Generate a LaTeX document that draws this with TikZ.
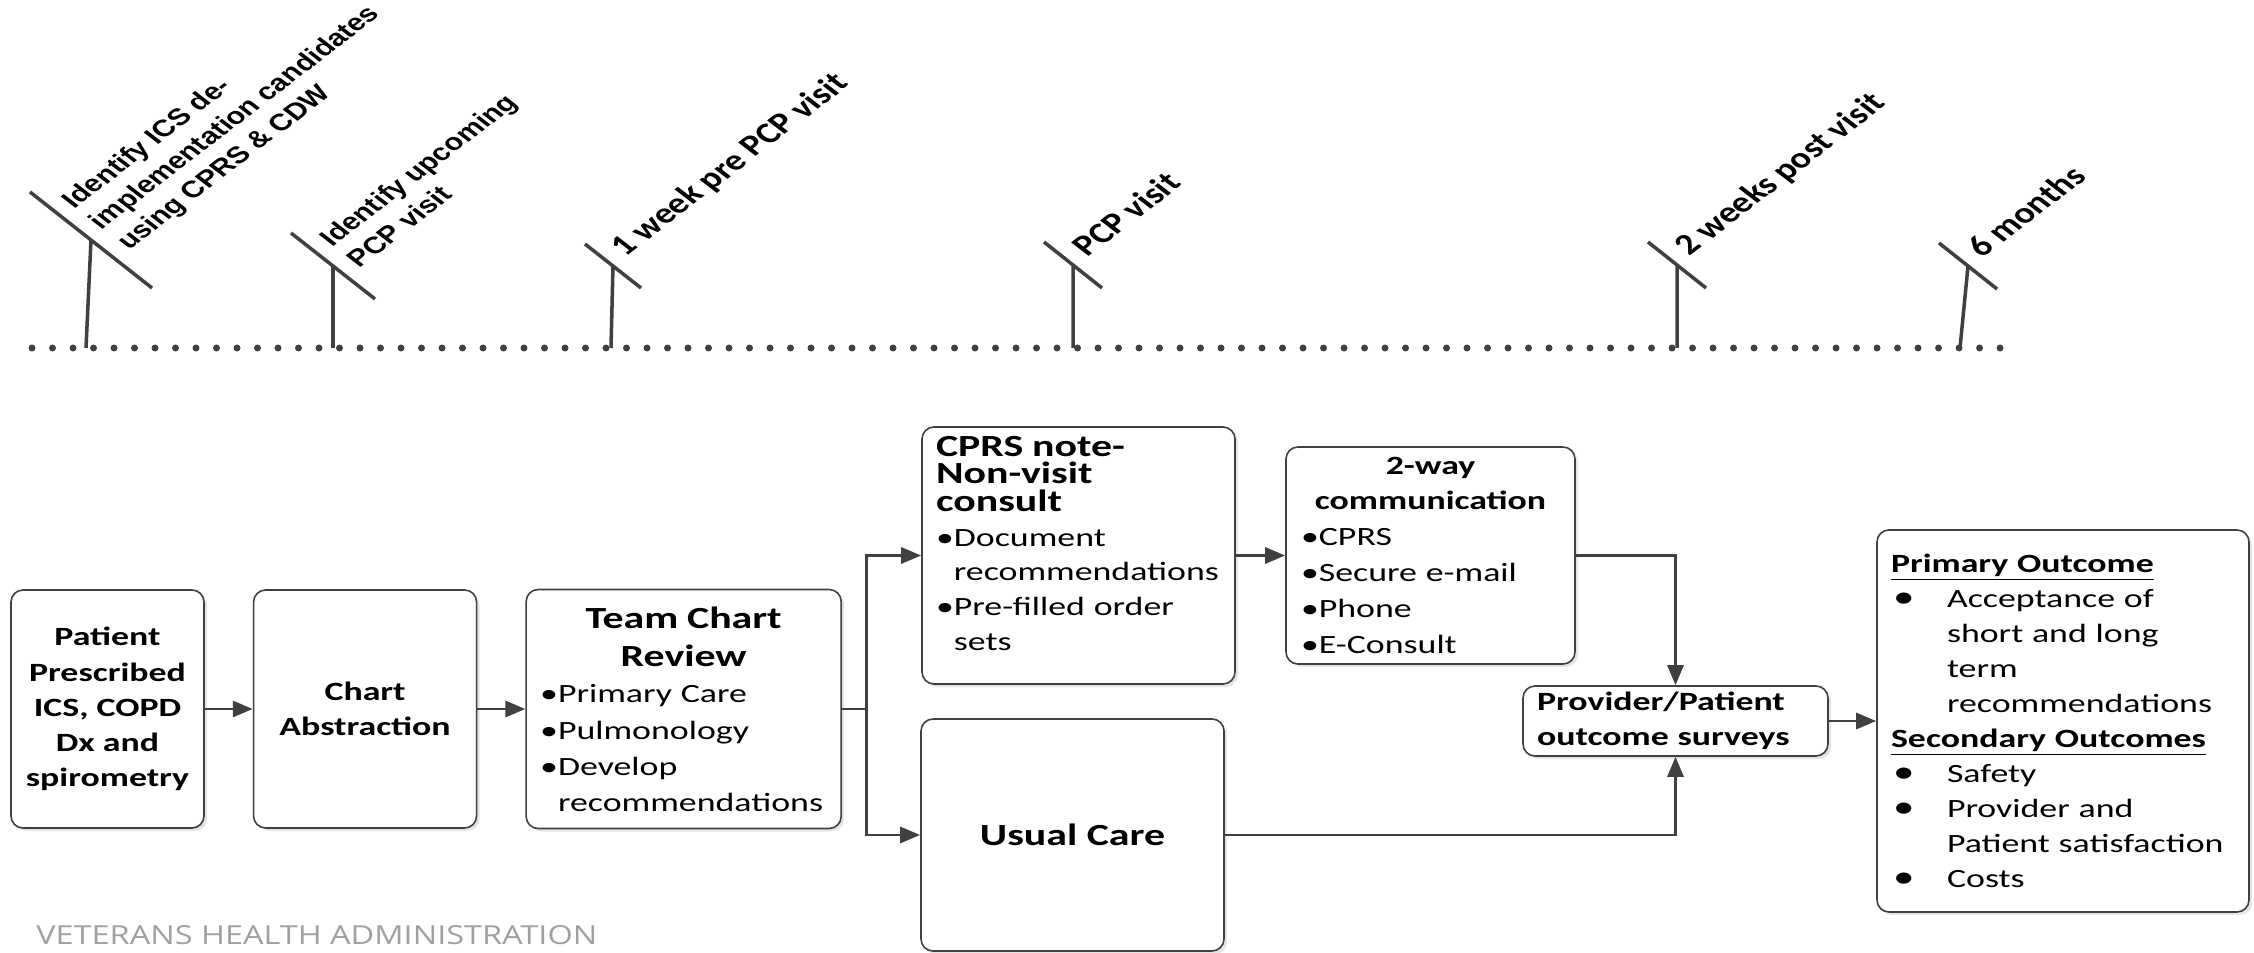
\documentclass[tikz,border=0pt]{standalone}
\usepackage{fontspec}
\usepackage{tikz}
\usetikzlibrary{positioning}
\usetikzlibrary{arrows.meta}
\usetikzlibrary{shadows}

\newfontfamily\boxfont[FakeStretch=1.36]{Carlito}
\newfontfamily\califont{Carlito}
\newfontfamily\arialfont{Liberation Sans}
\newfontfamily\vhafont[FakeStretch=1.24]{Open Sans}
\definecolor{ink}{HTML}{404040}
\definecolor{vhagray}{HTML}{A0A0A0}
\newcommand{\outbul}{\makebox[11.2mm][l]{\hspace{0.4mm}\fontsize{18}{18}\selectfont•}}
\newcommand{\outind}{\hspace*{11.2mm}}

\begin{document}
\begin{tikzpicture}
			[x=0.2mm, y=-0.2mm, >={Triangle[length=4mm, width=3.2mm]},
			box/.style = {draw=ink, line width=0.9pt, rounded corners=2.4mm, fill=white,
				drop shadow={shadow xshift=0.6mm, shadow yshift=-0.6mm, fill=black!20},
				font=\boxfont\fontsize{15}{20.5}\selectfont, inner xsep=2.8mm, inner ysep=1mm},
			boxb/.style = {box, font=\boxfont\bfseries\fontsize{15}{20}\selectfont, align=center},
			flow/.style = {draw=ink, line width=1.7pt},
			stem/.style = {draw=ink, line width=2pt},
			dots/.style = {draw=ink, line width=1.4mm, line cap=round, dash pattern=on 0pt off 4.1mm},
			lbla/.style = {font=\arialfont\bfseries\fontsize{13.4}{16.8}\selectfont, align=left,
				inner sep=0pt, anchor=west, xshift=1mm, yshift=2.8mm, xscale=1.3, rotate=45},
			lblc/.style = {lbla, font=\califont\bfseries\fontsize{16.7}{20}\selectfont}]
			\useasboundingbox (0,0) rectangle (2254,953);
			% time line
			\coordinate (start) at (32,348);
			\coordinate (stop) at (2002,348);
			\draw[dots] (start) -- (stop);
			\coordinate (p1) at (91,240);
			\coordinate (p2) at (333,266);
			\coordinate (p3) at (613,266);
			\coordinate (p4) at (1073,265);
			\coordinate (p5) at (1677,265);
			\coordinate (p6) at (1968,266);
			\draw[stem] (86,348) -- (p1) ++(-61,-48) -- ++(122,96);
			\draw[stem] (333,348) -- (p2) ++(-42,-33) -- ++(84,66);
			\draw[stem] (611,348) -- (p3) ++(-28,-22) -- ++(56,44);
			\draw[stem] (1073,348) -- (p4) ++(-29,-23) -- ++(58,46);
			\draw[stem] (1677,348) -- (p5) ++(-29,-23) -- ++(58,46);
			\draw[stem] (1960,348) -- (p6) ++(-29,-23) -- ++(58,46);
			\node[lbla] (t1) at (p1) {Identify ICS de-\\implementation candidates\\using CPRS \& CDW};
			\node[lbla] (t2) at (p2) {Identify upcoming\\PCP visit};
			\node[lblc] (t3) at (p3) {1 week pre PCP visit};
			\node[lblc] (t4) at (p4) {PCP visit};
			\node[lblc] (t5) at (p5) {2 weeks post visit};
			\node[lblc] (t6) at (p6) {6 months};
			% flow
			\node[boxb, minimum width=38.6mm, minimum height=47.6mm] (patient) at (107.5,709)
				{Patient\\Prescribed\\ICS, COPD\\Dx and\\spirometry};
			\node[boxb, minimum width=44.6mm, minimum height=47.6mm, right=9.6mm of patient] (abstract)
				{Chart\\Abstraction};
			\node[box, minimum width=63mm, minimum height=47.8mm, text width=57.4mm, align=left,
				right=9.6mm of abstract] (review)
				{{\centering\bfseries\fontsize{17.5}{22}\selectfont Team Chart\\Review\par}
				•Primary Care\\•Pulmonology\\•Develop\\\phantom{•}recommendations};
			\node[box, font=\boxfont\fontsize{15}{19.8}\selectfont, minimum width=62.6mm, minimum height=51.4mm,
				text width=57mm, align=left] (note) at (1078.5,555.5)
				{{\bfseries\fontsize{17.5}{15.5}\selectfont CPRS note-\\Non-visit\\consult\par}
				•Document\\\phantom{•}recommendations\\•Pre-filled order\\\phantom{•}sets\rule[-4.8mm]{0pt}{4.8mm}};
			\node[box, minimum width=57.8mm, minimum height=43.4mm, text width=51.8mm, inner xsep=3mm,
				align=left] (talk) at (1430.5,555.5)
				{{\centering\bfseries\fontsize{15}{20}\selectfont 2-way\\communication\par}
				•CPRS\\•Secure e-mail\\•Phone\\•E-Consult};
			\node[boxb, font=\boxfont\fontsize{17.5}{22}\selectfont\bfseries, minimum width=60.6mm,
				minimum height=46.4mm] (usual) at (1072.5,835) {Usual Care};
			\node[box, font=\boxfont\bfseries\fontsize{15}{20}\selectfont, minimum width=61mm, minimum height=14mm,
				text width=55.4mm, inner ysep=0pt, align=left] (survey) at (1675.5,721)
				{Provider/Patient\\outcome surveys};
			\node[box, font=\boxfont\fontsize{15}{19.9}\selectfont, minimum width=74.4mm, minimum height=76.4mm,
				text width=68.8mm, align=left] (outcome) at (2063,721)
				{\textbf{\underline{Primary Outcome}}\\
				\outbul Acceptance of\\\outind short and long\\\outind term\\\outind recommendations\\
				\textbf{\underline{Secondary Outcomes}}\\
				\outbul Safety\\\outbul Provider and\\\outind Patient satisfaction\\\outbul Costs};
			\coordinate (split) at (866,709);
			\draw[flow, ->] (patient) -- (abstract);
			\draw[flow, ->] (abstract) -- (review);
			\draw[flow] (review) -- (split);
			\draw[flow, ->] (split) |- (note);
			\draw[flow, ->] (split) |- (usual);
			\draw[flow, ->] (note) -- (talk);
			\draw[flow, ->] (talk) -| (survey);
			\draw[flow, ->] (usual) -| (survey);
			\draw[flow, ->] (survey) -- (outcome);
			\node[font=\vhafont\fontsize{14.9}{18}\selectfont, text=vhagray, anchor=base west, inner sep=0pt]
				(vha) at (36,944) {VETERANS HEALTH ADMINISTRATION};
		\end{tikzpicture}
\end{document}
